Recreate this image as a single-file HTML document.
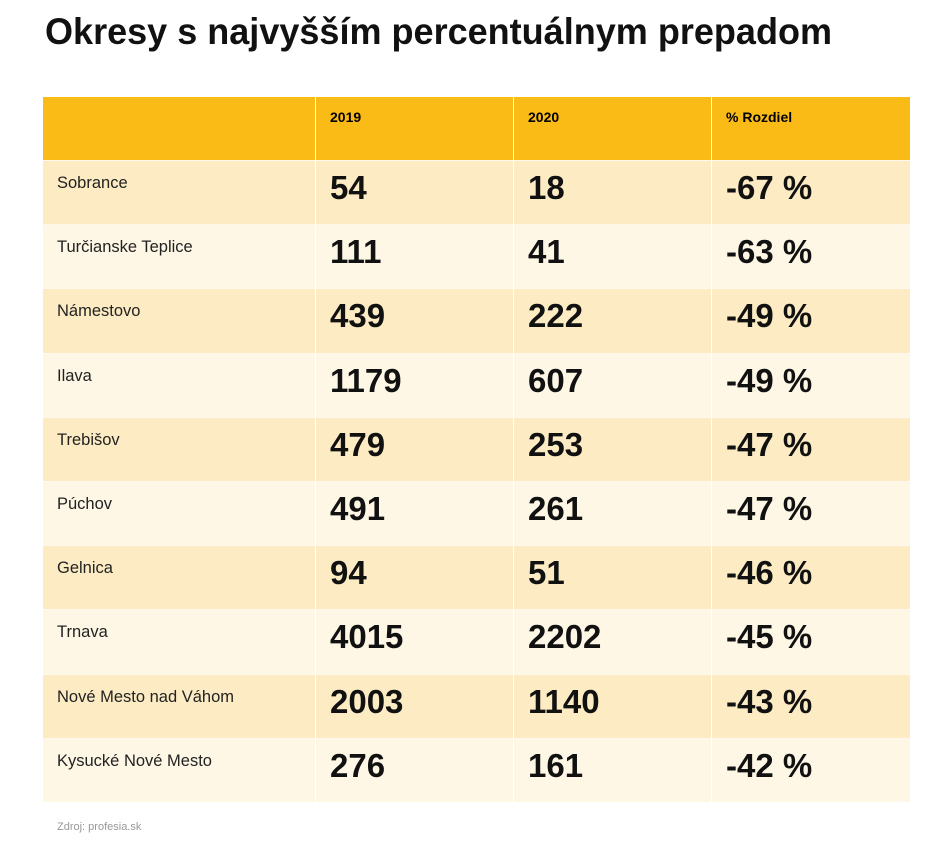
<!DOCTYPE html>
<html><head><meta charset="utf-8"><style>
body{margin:0;width:948px;height:842px;background:#fff;font-family:"Liberation Sans",sans-serif;position:relative;overflow:hidden}
.t{position:absolute;left:45px;top:10px}
table{position:absolute;left:43px;top:97px;border-collapse:collapse;width:867px}
td{padding:0;vertical-align:top;border-left:1px solid #fff}
td:first-child{border-left:none}
tr.h td{background:#fbbb17;height:63px;font-weight:bold;font-size:14px;padding-left:14px;padding-top:0}
tr.h td span{display:block;margin-top:12px}
tr.r td{height:63.2px;border-top:1px solid #fff8ec}
tr.a td{background:#fdecc3}
tr.b td{background:#fef7e5}
td.n{font-size:16.5px;color:#222;padding-left:14px}
td.n span{display:block;margin-top:13px}
td.v{font-size:33px;font-weight:bold;color:#111;padding-left:14px}
td.v span{display:block;margin-top:8px}
.src{position:absolute;left:57px;top:821px;font-size:11px;color:#999}
</style></head><body>
<svg class="t" width="800" height="45"><text x="0" y="34" font-family="Liberation Sans" font-weight="bold" font-size="37" fill="#111" textLength="787" lengthAdjust="spacingAndGlyphs">Okresy s najvyšším percentuálnym prepadom</text></svg>
<table>
<tr class="h"><td style="width:258px"></td><td style="width:183px"><span>2019</span></td><td style="width:183px"><span>2020</span></td><td><span>% Rozdiel</span></td></tr>
<tr class="r a"><td class="n"><span>Sobrance</span></td><td class="v"><span>54</span></td><td class="v"><span>18</span></td><td class="v"><span>-67 %</span></td></tr>
<tr class="r b"><td class="n"><span>Turčianske Teplice</span></td><td class="v"><span>111</span></td><td class="v"><span>41</span></td><td class="v"><span>-63 %</span></td></tr>
<tr class="r a"><td class="n"><span>Námestovo</span></td><td class="v"><span>439</span></td><td class="v"><span>222</span></td><td class="v"><span>-49 %</span></td></tr>
<tr class="r b"><td class="n"><span>Ilava</span></td><td class="v"><span>1179</span></td><td class="v"><span>607</span></td><td class="v"><span>-49 %</span></td></tr>
<tr class="r a"><td class="n"><span>Trebišov</span></td><td class="v"><span>479</span></td><td class="v"><span>253</span></td><td class="v"><span>-47 %</span></td></tr>
<tr class="r b"><td class="n"><span>Púchov</span></td><td class="v"><span>491</span></td><td class="v"><span>261</span></td><td class="v"><span>-47 %</span></td></tr>
<tr class="r a"><td class="n"><span>Gelnica</span></td><td class="v"><span>94</span></td><td class="v"><span>51</span></td><td class="v"><span>-46 %</span></td></tr>
<tr class="r b"><td class="n"><span>Trnava</span></td><td class="v"><span>4015</span></td><td class="v"><span>2202</span></td><td class="v"><span>-45 %</span></td></tr>
<tr class="r a"><td class="n"><span>Nové Mesto nad Váhom</span></td><td class="v"><span>2003</span></td><td class="v"><span>1140</span></td><td class="v"><span>-43 %</span></td></tr>
<tr class="r b"><td class="n"><span>Kysucké Nové Mesto</span></td><td class="v"><span>276</span></td><td class="v"><span>161</span></td><td class="v"><span>-42 %</span></td></tr>
</table>
<div class="src">Zdroj: profesia.sk</div>
</body></html>
